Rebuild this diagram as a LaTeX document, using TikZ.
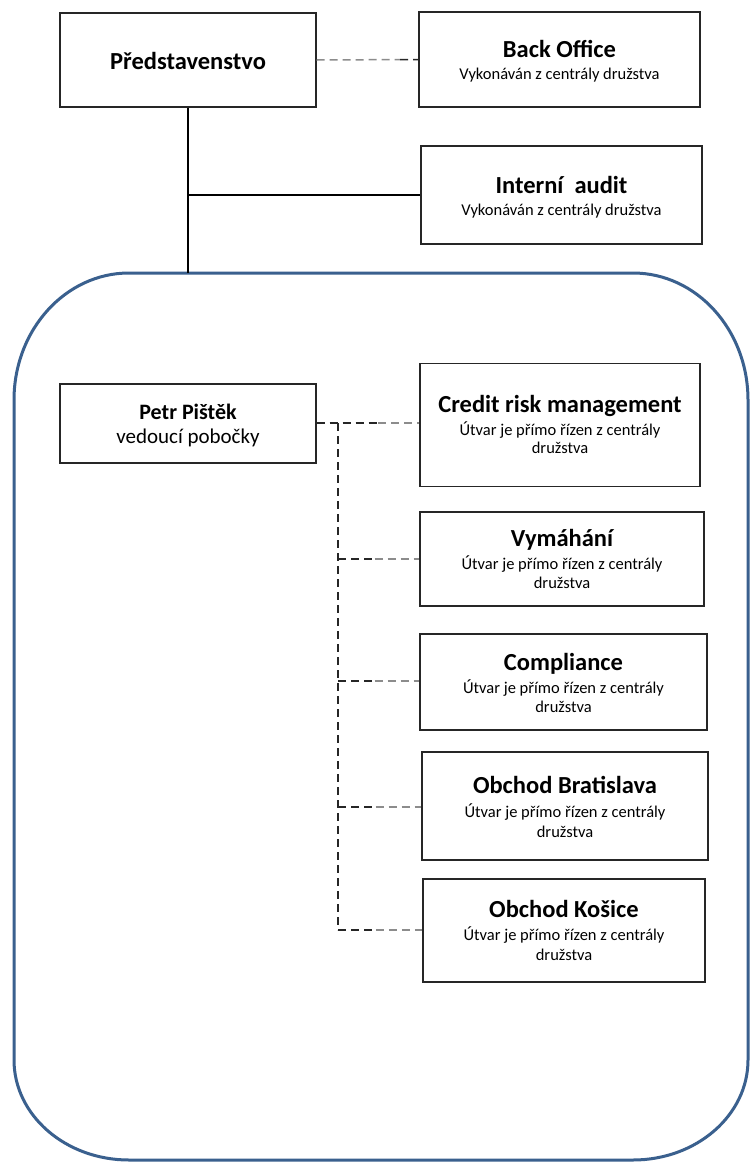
\documentclass[tikz,border=0pt]{standalone}
\usepackage{fontspec}
\setmainfont{Carlito}
\usetikzlibrary{calc}
\definecolor{contblue}{RGB}{58,96,142}
\definecolor{dgray}{RGB}{140,140,140}
\newcommand{\ttlfont}{\fontsize{24.5}{29}\selectfont\bfseries}
\newcommand{\subfont}{\fontsize{16.5}{19}\selectfont}
\begin{document}
\begin{tikzpicture}[x=1pt,y=1pt,
  box/.style={draw=black!85, line width=1.3pt, inner sep=0pt, fill=white},
  lbl/.style={inner sep=0pt, anchor=base, text=black},
  solidln/.style={draw=black, line width=1.3pt},
  dashblk/.style={draw=black!85, line width=1.5pt, dash pattern=on 8pt off 5pt},
  dashgry/.style={draw=dgray, line width=1.5pt, dash pattern=on 8pt off 5pt},
  cont/.style={draw=contblue, line width=3pt}]
\useasboundingbox (0,0) rectangle (750,-1162);
\fill[white] (0,0) rectangle (750,-1162);

% container
\draw[cont] (129,-273) -- (633,-273)
  arc[start angle=90,end angle=0,x radius=115,y radius=127]
  -- (748,-1060)
  arc[start angle=0,end angle=-90,x radius=115,y radius=100]
  -- (129,-1160)
  arc[start angle=270,end angle=180,x radius=115,y radius=100]
  -- (14,-400)
  arc[start angle=180,end angle=90,x radius=115,y radius=127]
  -- cycle;
\coordinate (ctop) at (188,-273);

% boxes
\node[box, minimum width=256pt, minimum height=94pt] (pred) at (188,-60) {};
\node[box, minimum width=281pt, minimum height=95pt] (bo) at (559.5,-59.5) {};
\node[box, minimum width=281pt, minimum height=98pt] (ia) at (561.5,-195) {};
\node[box, minimum width=256pt, minimum height=79pt] (petr) at (188,-423.5) {};
\node[box, minimum width=280pt, minimum height=123pt] (crm) at (560,-425) {};
\node[box, minimum width=284pt, minimum height=94pt] (vym) at (562,-559) {};
\node[box, minimum width=287pt, minimum height=96pt] (comp) at (563.5,-682) {};
\node[box, minimum width=286pt, minimum height=108pt] (ob) at (565,-806) {};
\node[box, minimum width=282pt, minimum height=103pt] (ok) at (564,-930.5) {};

% texts
\node[lbl] (pred-t) at (188,-69) {\ttlfont Představenstvo};
\node[lbl] (bo-t) at (559.5,-57) {\ttlfont Back Office};
\node[lbl] (bo-s) at (559.5,-79) {\subfont Vykonáván z centrály družstva};
\node[lbl] (ia-t) at (561.5,-193) {\ttlfont Interní~ audit};
\node[lbl] (ia-s) at (561.5,-215) {\subfont Vykonáván z centrály družstva};
\node[lbl] (petr-t) at (188,-419) {\fontsize{22}{26}\selectfont\bfseries Petr Pištěk};
\node[lbl] (petr-s) at (188,-443) {\fontsize{21}{25}\selectfont vedoucí pobočky};
\node[lbl] (crm-t) at (560,-412) {\ttlfont Credit risk management};
\node[lbl] (crm-s1) at (560,-435) {\subfont Útvar je přímo řízen z centrály};
\node[lbl] (crm-s2) at (560,-453) {\subfont družstva};
\node[lbl] (vym-t) at (562,-546) {\ttlfont Vymáhání};
\node[lbl] (vym-s1) at (562,-569) {\subfont Útvar je přímo řízen z centrály};
\node[lbl] (vym-s2) at (562,-588) {\subfont družstva};
\node[lbl] (comp-t) at (563.5,-670) {\ttlfont Compliance};
\node[lbl] (comp-s1) at (563.5,-693) {\subfont Útvar je přímo řízen z centrály};
\node[lbl] (comp-s2) at (563.5,-712) {\subfont družstva};
\node[lbl] (ob-t) at (565,-793) {\ttlfont Obchod Bratislava};
\node[lbl] (ob-s1) at (565,-817) {\subfont Útvar je přímo řízen z centrály};
\node[lbl] (ob-s2) at (565,-837) {\subfont družstva};
\node[lbl] (ok-t) at (564,-917) {\ttlfont Obchod Košice};
\node[lbl] (ok-s1) at (564,-940) {\subfont Útvar je přímo řízen z centrály};
\node[lbl] (ok-s2) at (564,-960) {\subfont družstva};

% solid connectors
\coordinate (jia) at (188,-195);
\draw[solidln] (pred.south) -- (ctop);
\draw[solidln] (jia) -- (ia.west);

% dashed top
\draw[dashgry] (pred.east) -- ($(pred.east)!0.82!(bo.west)$);
\draw[dashblk] ($(pred.east)!0.82!(bo.west)$) -- (bo.west);

% dashed tree
\coordinate (vtop) at (338,-423);
\coordinate (j1) at (338,-559);
\coordinate (j2) at (338,-681);
\coordinate (j3) at (338,-807);
\coordinate (j4) at (338,-930);
\draw[dashblk] (petr.east |- vtop) -- ($(petr.east |- vtop)!0.6!(crm.west |- vtop)$);
\draw[dashgry] ($(petr.east |- vtop)!0.6!(crm.west |- vtop)$) -- (crm.west |- vtop);
\draw[dashblk] (vtop) -- (j4);
\foreach \j/\b in {j1/vym, j2/comp, j3/ob, j4/ok}{
  \draw[dashblk] (\j) -- ($(\j)!0.45!(\b.west |- \j)$);
  \draw[dashgry] ($(\j)!0.45!(\b.west |- \j)$) -- (\b.west |- \j);
}
\end{tikzpicture}
\end{document}
